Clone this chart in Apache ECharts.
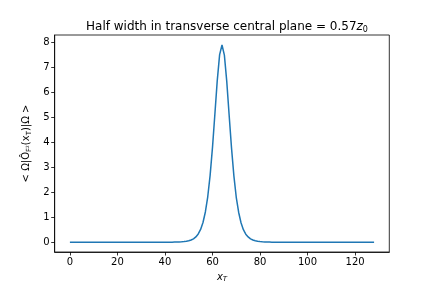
<!DOCTYPE html>
<html>
<head>
<meta charset="utf-8">
<script src="https://cdn.jsdelivr.net/npm/echarts@6/dist/echarts.min.js"></script>
<style>
  html, body { margin: 0; padding: 0; background: #fff; }
  #chart { width: 432px; height: 288px; }
</style>
</head>
<body>
<div id="chart"></div>
<script>
// x positions 0..128, expectation value
const xT = Array.from({ length: 129 }, (_, i) => i)
const density = [
  0, 0, 0, 0, 0, 0, 0, 0, 0, 0,
  0, 0, 0, 0, 0, 0, 0, 0, 0, 0,
  0, 0, 0, 0, 0, 0, 0, 0, 0, 0,
  0, 0, 0, 0, 0, 0, 0, 0, 0, 0,
  0, 0, 0, 0, 0.004, 0.006, 0.009, 0.014, 0.022, 0.035,
  0.055, 0.085, 0.134, 0.21, 0.33, 0.51, 0.79, 1.21, 1.82, 2.68,
  3.80, 5.13, 6.48, 7.52, 7.91, 7.50, 6.45, 5.10, 3.78, 2.66,
  1.80, 1.20, 0.78, 0.50, 0.32, 0.21, 0.13, 0.085, 0.055, 0.035,
  0.022, 0.014, 0.009, 0.006, 0.004, 0, 0, 0, 0, 0,
  0, 0, 0, 0, 0, 0, 0, 0, 0, 0,
  0, 0, 0, 0, 0, 0, 0, 0, 0, 0,
  0, 0, 0, 0, 0, 0, 0, 0, 0, 0,
  0, 0, 0, 0, 0, 0, 0, 0, 0
]
const xTicks = [0, 20, 40, 60, 80, 100, 120]
const yTicks = [0, 1, 2, 3, 4, 5, 6, 7, 8]

const font = 'DejaVu Sans'
const chart = echarts.init(document.getElementById('chart'), null, { renderer: 'canvas' })

const option = {
  animation: false,
  backgroundColor: '#fff',
  title: {
    text: 'Half width in transverse central plane = 0.57{i|z}{s|0}',
    left: 222,
    textAlign: 'center',
    top: 15,
    textStyle: {
      fontFamily: font,
      fontSize: 12,
      fontWeight: 'normal',
      color: '#000',
      lineHeight: 14,
      rich: {
        i: { fontFamily: font, fontSize: 12, fontStyle: 'italic', color: '#000', lineHeight: 14 },
        s: { fontFamily: font, fontSize: 8, color: '#000', verticalAlign: 'bottom', lineHeight: 14, padding: [4, 0, 0, 0] }
      }
    }
  },
  grid: {
    left: 54.7,
    right: 432 - 389.3,
    top: 35,
    bottom: 288 - 252,
    show: true,
    borderColor: '#000',
    borderWidth: 0.8,
    backgroundColor: 'transparent'
  },
  xAxis: {
    type: 'value',
    min: -6.4,
    max: 134.4,
    name: '{i|x}{s|T}',
    nameLocation: 'middle',
    nameGap: 19,
    nameTextStyle: {
      rich: {
        i: { fontFamily: font, fontSize: 10, fontStyle: 'italic', color: '#000', lineHeight: 12 },
        s: { fontFamily: font, fontSize: 7, fontStyle: 'italic', color: '#000', verticalAlign: 'bottom', lineHeight: 12, padding: [4, 0, 0, 0] }
      }
    },
    axisLine: { show: true, onZero: false, lineStyle: { color: '#000', width: 0.8 } },
    axisTick: { show: true, length: 3.5, lineStyle: { color: '#000', width: 0.8 }, customValues: xTicks },
    axisLabel: { fontFamily: font, fontSize: 10, color: '#000', margin: 5, customValues: xTicks },
    splitLine: { show: false }
  },
  yAxis: {
    type: 'value',
    min: -0.395,
    max: 8.31,
    name: '< Ω|Ô{s|F²}(x{s|T})|Ω >',
    nameLocation: 'middle',
    nameGap: 18,
    nameRotate: 90,
    nameTextStyle: {
      fontFamily: font,
      fontSize: 10,
      color: '#000',
      lineHeight: 12,
      rich: {
        s: { fontFamily: font, fontSize: 7, color: '#000', verticalAlign: 'bottom', lineHeight: 12, padding: [4, 0, 0, 0] }
      }
    },
    axisLine: { show: true, onZero: false, lineStyle: { color: '#000', width: 0.8 } },
    axisTick: { show: true, length: 3.5, lineStyle: { color: '#000', width: 0.8 }, customValues: yTicks },
    axisLabel: { fontFamily: font, fontSize: 10, color: '#000', margin: 5, customValues: yTicks },
    splitLine: { show: false }
  },
  series: [
    {
      type: 'line',
      data: xT.map((x, i) => [x, density[i]]),
      showSymbol: false,
      smooth: false,
      lineStyle: { color: '#1f77b4', width: 1.5 },
      itemStyle: { color: '#1f77b4' }
    }
  ]
}

chart.setOption(option)
</script>
</body>
</html>
